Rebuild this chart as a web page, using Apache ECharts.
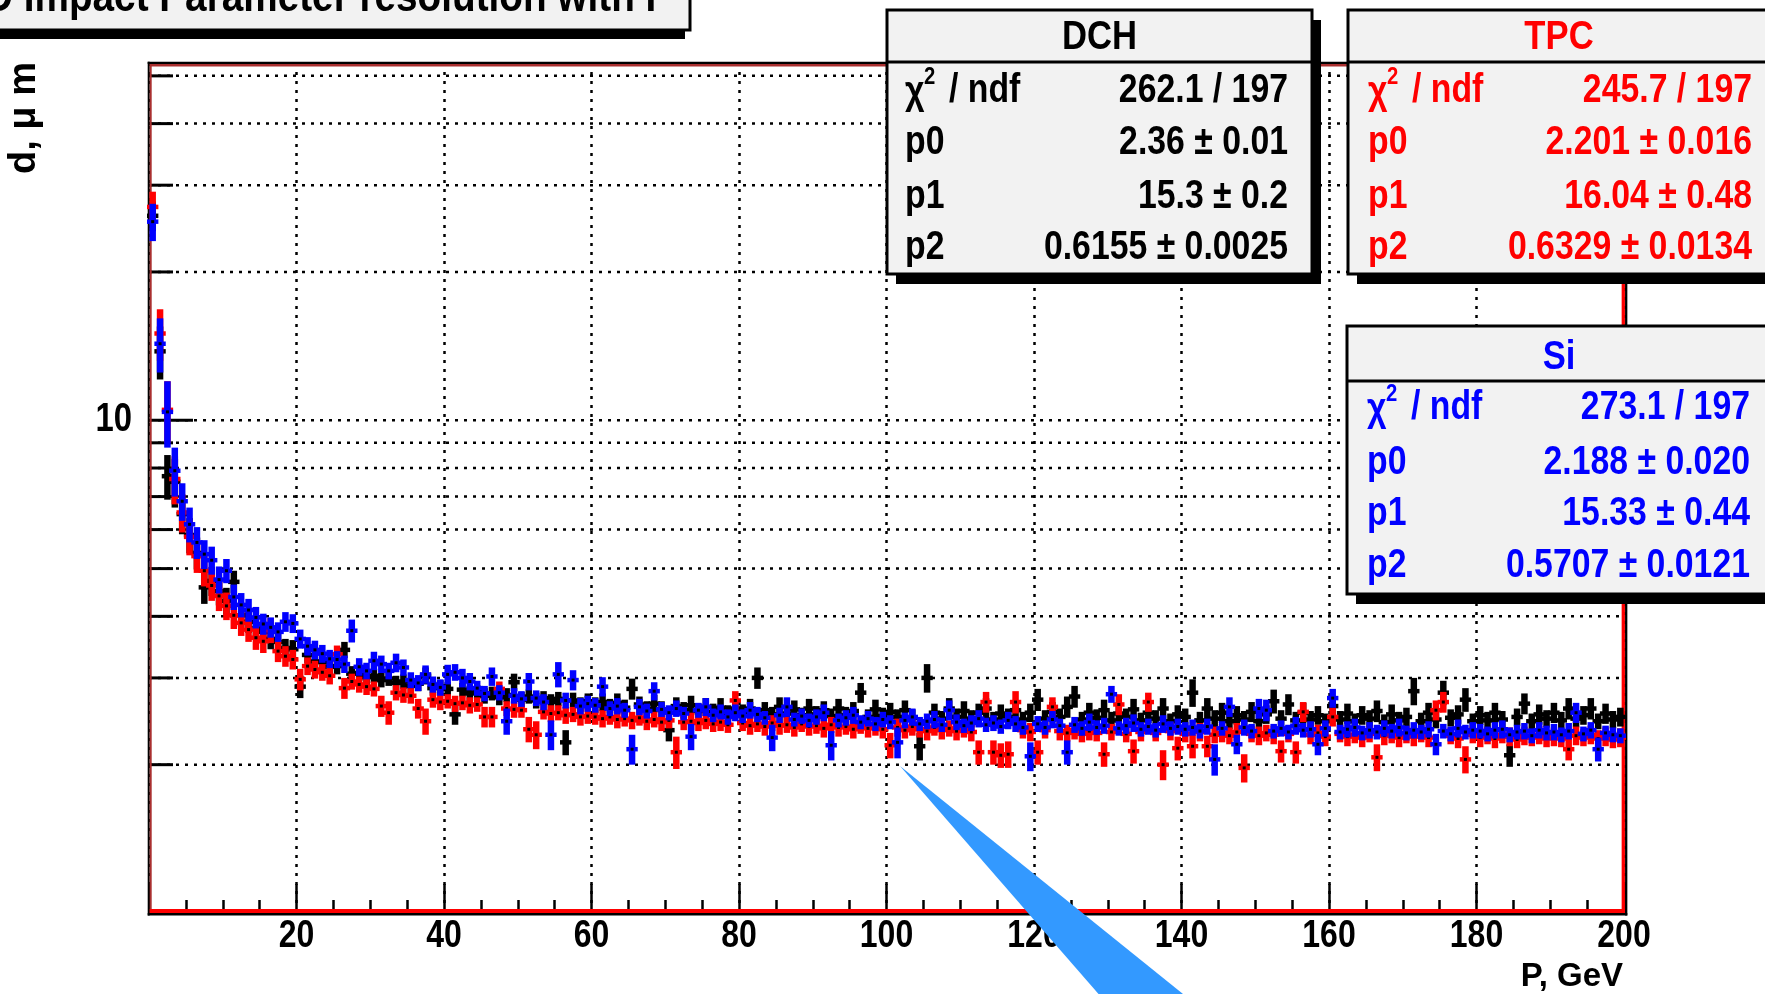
<!DOCTYPE html>
<html><head><meta charset="utf-8">
<script src="https://cdn.jsdelivr.net/npm/echarts@6/dist/echarts.min.js"></script>
<style>html,body{margin:0;padding:0;background:#fff;}#chart{width:1765px;height:994px;}</style>
</head><body><div id="chart"></div>
<script>
// ---------------- data ----------------
const xTickLabels = [20, 40, 60, 80, 100, 120, 140, 160, 180, 200];
const yGridValues = [2, 3, 4, 5, 6, 7, 8, 9, 10, 20, 30, 40, 50];
const yTickLabels = [10];
const binWidth = 1; // GeV per bin, 200 bins from 0 to 200

const siValues = [
25.3, 14.3, 10.4, 7.9, 6.85, 6.15, 5.65, 5.35, 5.2, 4.75,
4.95, 4.38, 4.22, 4.12, 3.98, 3.86, 3.8, 3.72, 3.9, 3.87,
3.6, 3.48, 3.42, 3.36, 3.28, 3.27, 3.2, 3.74, 3.16, 3.1,
3.25, 3.2, 3.1, 3.22, 3.15, 2.97, 2.93, 3.05, 2.91, 2.87,
3.05, 3.08, 3.0, 2.95, 2.86, 2.79, 3.02, 2.8, 2.45, 2.76,
2.72, 2.95, 2.73, 2.68, 2.3, 3.05, 2.7, 2.97, 2.63, 2.66,
2.64, 2.88, 2.6, 2.63, 2.58, 2.15, 2.62, 2.57, 2.82, 2.59,
2.55, 2.6, 2.54, 2.28, 2.58, 2.62, 2.52, 2.56, 2.5, 2.55,
2.51, 2.58, 2.53, 2.49, 2.27, 2.52, 2.62, 2.47, 2.51, 2.46,
2.5, 2.55, 2.19, 2.46, 2.49, 2.52, 2.44, 2.48, 2.42, 2.47,
2.44, 2.22, 2.46, 2.5, 2.42, 2.45, 2.47, 2.41, 2.58, 2.44,
2.4, 2.43, 2.48, 2.41, 2.43, 2.39, 2.46, 2.42, 2.38, 2.08,
2.42, 2.38, 2.47, 2.4, 2.12, 2.41, 2.37, 2.44, 2.38, 2.4,
2.78, 2.37, 2.4, 2.43, 2.36, 2.39, 2.35, 2.42, 2.37, 2.39,
2.36, 2.38, 2.34, 2.39, 2.05, 2.37, 2.62, 2.2, 2.38, 2.34,
2.6, 2.58, 2.34, 2.37, 2.33, 2.4, 2.35, 2.36, 2.2, 2.37,
2.73, 2.33, 2.36, 2.38, 2.32, 2.35, 2.33, 2.37, 2.34, 2.38,
2.32, 2.35, 2.33, 2.36, 2.2, 2.34, 2.31, 2.37, 2.33, 2.35,
2.34, 2.31, 2.35, 2.36, 2.3, 2.33, 2.34, 2.29, 2.35, 2.32,
2.33, 2.3, 2.34, 2.55, 2.31, 2.35, 2.15, 2.32, 2.3, 2.29];
const siErrors = [
2.2, 1.8, 1.6, 0.9, 0.6, 0.5, 0.42, 0.36, 0.34, 0.3,
0.28, 0.26, 0.24, 0.22, 0.2, 0.19, 0.18, 0.17, 0.18, 0.17,
0.16, 0.15, 0.15, 0.14, 0.14, 0.13, 0.13, 0.2, 0.13, 0.12,
0.14, 0.13, 0.12, 0.14, 0.12, 0.11, 0.11, 0.13, 0.11, 0.11,
0.14, 0.12, 0.13, 0.12, 0.1, 0.1, 0.13, 0.1, 0.15, 0.1,
0.1, 0.12, 0.1, 0.1, 0.16, 0.18, 0.1, 0.14, 0.1, 0.1,
0.09, 0.13, 0.09, 0.1, 0.09, 0.15, 0.1, 0.09, 0.12, 0.09,
0.09, 0.1, 0.08, 0.14, 0.09, 0.11, 0.08, 0.09, 0.09, 0.1,
0.08, 0.1, 0.09, 0.08, 0.14, 0.09, 0.12, 0.08, 0.09, 0.08,
0.09, 0.1, 0.15, 0.08, 0.09, 0.1, 0.08, 0.09, 0.08, 0.09,
0.08, 0.16, 0.09, 0.1, 0.08, 0.09, 0.1, 0.08, 0.12, 0.09,
0.08, 0.09, 0.1, 0.08, 0.09, 0.08, 0.1, 0.09, 0.08, 0.14,
0.09, 0.08, 0.1, 0.08, 0.12, 0.09, 0.08, 0.1, 0.08, 0.09,
0.11, 0.08, 0.09, 0.1, 0.08, 0.09, 0.08, 0.1, 0.08, 0.09,
0.08, 0.09, 0.08, 0.09, 0.15, 0.08, 0.12, 0.1, 0.09, 0.08,
0.12, 0.13, 0.08, 0.09, 0.08, 0.1, 0.08, 0.09, 0.11, 0.09,
0.12, 0.08, 0.09, 0.1, 0.08, 0.09, 0.08, 0.09, 0.08, 0.1,
0.08, 0.09, 0.08, 0.09, 0.11, 0.08, 0.08, 0.1, 0.08, 0.09,
0.08, 0.08, 0.09, 0.1, 0.08, 0.08, 0.09, 0.08, 0.09, 0.08,
0.09, 0.08, 0.09, 0.12, 0.08, 0.09, 0.12, 0.08, 0.08, 0.08];

const dchValues = [
26.0, 13.8, 7.7, 7.5, 6.45, 5.85, 5.38, 4.58, 4.72, 4.5,
4.3, 4.7, 4.02, 3.9, 3.78, 3.72, 3.6, 3.55, 3.45, 3.43,
2.88, 3.34, 3.24, 3.23, 3.16, 3.17, 3.42, 3.06, 3.07, 3.01,
3.03, 2.97, 2.99, 2.93, 2.95, 2.89, 2.92, 3.03, 2.86, 2.87,
2.85, 2.53, 2.84, 2.79, 2.81, 2.76, 2.79, 2.74, 2.77, 2.94,
2.71, 2.75, 2.7, 2.73, 2.68, 2.72, 2.22, 2.7, 2.65, 2.69,
2.64, 2.68, 2.63, 2.67, 2.61, 2.85, 2.65, 2.6, 2.66, 2.59,
2.35, 2.63, 2.58, 2.64, 2.57, 2.62, 2.56, 2.61, 2.55, 2.6,
2.55, 2.6, 3.0, 2.58, 2.53, 2.62, 2.54, 2.59, 2.52, 2.6,
2.53, 2.58, 2.51, 2.6, 2.52, 2.57, 2.8, 2.5, 2.59, 2.51,
2.56, 2.5, 2.58, 2.49, 2.18, 3.0, 2.55, 2.48, 2.6, 2.5,
2.57, 2.48, 2.55, 2.6, 2.47, 2.54, 2.5, 2.58, 2.47, 2.55,
2.71, 2.48, 2.56, 2.5, 2.62, 2.75, 2.47, 2.55, 2.49, 2.58,
2.46, 2.54, 2.5, 2.59, 2.46, 2.55, 2.48, 2.6, 2.45, 2.53,
2.5, 2.8, 2.46, 2.6, 2.48, 2.55, 2.45, 2.52, 2.47, 2.56,
2.45, 2.53, 2.69, 2.48, 2.65, 2.46, 2.55, 2.47, 2.52, 2.45,
2.63, 2.47, 2.54, 2.45, 2.52, 2.48, 2.57, 2.44, 2.53, 2.46,
2.5, 2.82, 2.45, 2.55, 2.47, 2.8, 2.49, 2.53, 2.71, 2.45,
2.52, 2.46, 2.55, 2.47, 2.09, 2.5, 2.66, 2.45, 2.53, 2.48,
2.55, 2.46, 2.6, 2.48, 2.52, 2.6, 2.45, 2.54, 2.47, 2.5];
const dchErrors = [
1.8, 1.7, 0.8, 0.85, 0.58, 0.48, 0.4, 0.34, 0.32, 0.29,
0.27, 0.25, 0.22, 0.2, 0.19, 0.18, 0.17, 0.16, 0.15, 0.15,
0.15, 0.13, 0.13, 0.12, 0.12, 0.12, 0.13, 0.11, 0.11, 0.11,
0.1, 0.1, 0.1, 0.1, 0.1, 0.1, 0.1, 0.12, 0.1, 0.1,
0.09, 0.12, 0.09, 0.1, 0.09, 0.1, 0.09, 0.1, 0.09, 0.12,
0.1, 0.09, 0.1, 0.09, 0.1, 0.09, 0.13, 0.1, 0.09, 0.1,
0.1, 0.11, 0.09, 0.12, 0.1, 0.14, 0.1, 0.09, 0.11, 0.1,
0.12, 0.11, 0.1, 0.12, 0.09, 0.11, 0.1, 0.12, 0.09, 0.11,
0.1, 0.12, 0.15, 0.1, 0.09, 0.12, 0.1, 0.11, 0.09, 0.12,
0.1, 0.11, 0.09, 0.12, 0.1, 0.11, 0.13, 0.09, 0.12, 0.1,
0.11, 0.09, 0.12, 0.1, 0.14, 0.2, 0.11, 0.09, 0.13, 0.1,
0.12, 0.1, 0.11, 0.13, 0.09, 0.11, 0.1, 0.12, 0.09, 0.11,
0.14, 0.1, 0.12, 0.1, 0.13, 0.14, 0.09, 0.12, 0.1, 0.13,
0.1, 0.11, 0.1, 0.13, 0.09, 0.12, 0.1, 0.13, 0.09, 0.11,
0.1, 0.18, 0.1, 0.13, 0.1, 0.12, 0.09, 0.11, 0.1, 0.12,
0.1, 0.11, 0.15, 0.1, 0.13, 0.1, 0.12, 0.1, 0.11, 0.09,
0.13, 0.1, 0.12, 0.09, 0.11, 0.1, 0.13, 0.09, 0.12, 0.1,
0.11, 0.18, 0.1, 0.12, 0.1, 0.16, 0.1, 0.11, 0.15, 0.09,
0.11, 0.1, 0.12, 0.1, 0.11, 0.1, 0.13, 0.09, 0.12, 0.1,
0.12, 0.1, 0.13, 0.1, 0.11, 0.13, 0.09, 0.12, 0.1, 0.11];

const tpcValues = [
27.1, 15.0, 10.5, 7.6, 6.5, 5.8, 5.3, 4.95, 4.62, 4.4,
4.2, 4.02, 3.88, 3.76, 3.62, 3.56, 3.75, 3.4, 3.32, 3.27,
2.98, 3.17, 3.12, 3.08, 3.03, 3.35, 2.86, 2.95, 2.91, 2.88,
2.85, 2.63, 2.55, 2.8, 2.77, 2.76, 2.6, 2.45, 2.71, 2.68,
2.69, 2.66, 2.67, 2.64, 2.65, 2.5, 2.5, 2.85, 2.6, 2.59,
2.58, 2.36, 2.3, 2.56, 2.54, 2.55, 2.52, 2.53, 2.5, 2.51,
2.5, 2.48, 2.5, 2.47, 2.48, 2.46, 2.49, 2.45, 2.47, 2.44,
2.46, 2.12, 2.44, 2.45, 2.43, 2.46, 2.42, 2.44, 2.41, 2.7,
2.43, 2.4, 2.42, 2.39, 2.43, 2.4, 2.41, 2.38, 2.42, 2.39,
2.4, 2.37, 2.41, 2.38, 2.39, 2.36, 2.4, 2.37, 2.38, 2.36,
2.19, 2.38, 2.35, 2.39, 2.36, 2.34, 2.38, 2.35, 2.37, 2.34,
2.36, 2.33, 2.12, 2.68, 2.12, 2.09, 2.1, 2.68, 2.35, 2.33,
2.12, 2.35, 2.62, 2.34, 2.32, 2.35, 2.31, 2.34, 2.32, 2.1,
2.33, 2.65, 2.31, 2.13, 2.33, 2.68, 2.32, 2.0, 2.34, 2.16,
2.31, 2.18, 2.33, 2.18, 2.3, 2.32, 2.29, 2.33, 1.97, 2.31,
2.29, 2.32, 2.3, 2.13, 2.31, 2.12, 2.56, 2.3, 2.32, 2.28,
2.5, 2.31, 2.28, 2.3, 2.27, 2.31, 2.07, 2.29, 2.3, 2.27,
2.3, 2.28, 2.31, 2.27, 2.58, 2.68, 2.29, 2.26, 2.05, 2.3,
2.27, 2.29, 2.26, 2.3, 2.28, 2.25, 2.29, 2.27, 2.3, 2.26,
2.28, 2.26, 2.15, 2.29, 2.27, 2.3, 2.26, 2.28, 2.25, 2.27];
const tpcErrors = [
2.0, 1.8, 1.5, 0.85, 0.58, 0.48, 0.4, 0.35, 0.32, 0.3,
0.27, 0.25, 0.23, 0.21, 0.2, 0.19, 0.22, 0.17, 0.16, 0.15,
0.15, 0.13, 0.13, 0.12, 0.12, 0.14, 0.14, 0.11, 0.11, 0.11,
0.1, 0.13, 0.14, 0.1, 0.1, 0.1, 0.12, 0.15, 0.1, 0.1,
0.09, 0.1, 0.09, 0.1, 0.09, 0.12, 0.12, 0.1, 0.09, 0.1,
0.09, 0.14, 0.15, 0.09, 0.1, 0.09, 0.1, 0.09, 0.1, 0.09,
0.09, 0.1, 0.09, 0.1, 0.09, 0.1, 0.09, 0.1, 0.09, 0.1,
0.09, 0.16, 0.09, 0.1, 0.09, 0.1, 0.09, 0.1, 0.09, 0.12,
0.09, 0.1, 0.09, 0.1, 0.09, 0.1, 0.09, 0.1, 0.09, 0.1,
0.09, 0.1, 0.09, 0.1, 0.09, 0.1, 0.09, 0.1, 0.09, 0.1,
0.13, 0.1, 0.09, 0.1, 0.09, 0.1, 0.09, 0.1, 0.09, 0.1,
0.09, 0.1, 0.12, 0.13, 0.12, 0.12, 0.13, 0.14, 0.09, 0.1,
0.12, 0.09, 0.12, 0.1, 0.09, 0.1, 0.09, 0.1, 0.09, 0.12,
0.09, 0.13, 0.09, 0.12, 0.1, 0.12, 0.09, 0.14, 0.1, 0.12,
0.09, 0.12, 0.1, 0.11, 0.09, 0.1, 0.09, 0.1, 0.13, 0.09,
0.1, 0.09, 0.1, 0.11, 0.09, 0.11, 0.12, 0.1, 0.09, 0.1,
0.11, 0.09, 0.1, 0.09, 0.1, 0.09, 0.13, 0.1, 0.09, 0.1,
0.09, 0.1, 0.09, 0.1, 0.12, 0.13, 0.09, 0.1, 0.13, 0.09,
0.1, 0.09, 0.1, 0.09, 0.1, 0.09, 0.1, 0.09, 0.1, 0.09,
0.1, 0.09, 0.11, 0.1, 0.09, 0.1, 0.09, 0.1, 0.09, 0.1];

const statLabels = ['p0', 'p1', 'p2'];
const dchStats = ['262.1 / 197', '2.36 ± 0.01', '15.3 ± 0.2', '0.6155 ± 0.0025'];
const tpcStats = ['245.7 / 197', '2.201 ± 0.016', '16.04 ± 0.48', '0.6329 ± 0.0134'];
const siStats  = ['273.1 / 197', '2.188 ± 0.020', '15.33 ± 0.44', '0.5707 ± 0.0121'];
const titleText = 'D Impact Parameter resolution with P';
const xAxisTitle = 'P, GeV';
const yAxisTitle = 'd, μ m';

// ---------------- build ----------------
const FONT = "'Liberation Sans', Arial, Helvetica, sans-serif";
function toData(vals, errs) {
  return vals.map((v, i) => [(i + 0.5) * binWidth, v, errs[i]]);
}
function errRender(color) {
  return function (params, api) {
    const x = api.value(0), y = api.value(1), e = api.value(2);
    const c = api.coord([x, y]);
    const t = api.coord([x, y + e]);
    const b = api.coord([x, Math.max(y - e, 1.0001)]);
    const l = api.coord([x - 0.5 * binWidth, y]);
    const r = api.coord([x + 0.5 * binWidth, y]);
    return { type: 'group', children: [
      { type: 'line', shape: { x1: c[0], y1: t[1], x2: c[0], y2: b[1] }, style: { stroke: color, lineWidth: 6.5 } },
      { type: 'line', shape: { x1: l[0] - 2, y1: c[1], x2: r[0] + 2, y2: c[1] }, style: { stroke: color, lineWidth: 4.5 } },
      { type: 'rect', shape: { x: c[0] - 1.5, y: c[1] - 1.5, width: 3, height: 3 }, style: { fill: '#000' } }
    ]};
  };
}
function txt(text, x, y, size, color, align, sx, z) {
  return { type: 'text', x: x, y: y, scaleX: sx, z: z || 52,
    style: { text: text, fill: color, font: 'bold ' + size + 'px ' + FONT,
      textAlign: align, align: align, textVerticalAlign: 'middle', verticalAlign: 'middle' } };
}
const SX = 0.845;
function statBox(x0, y0, x1, y1, sepY, color, head, headX, headY, labelX, valueX, rowYs, stats) {
  const els = [];
  els.push({ type: 'rect', z: 50, shape: { x: x0 + 9, y: y0 + 10, width: x1 - x0, height: y1 - y0 }, style: { fill: '#000' } });
  els.push({ type: 'rect', z: 51, shape: { x: x0, y: y0, width: x1 - x0, height: y1 - y0 }, style: { fill: '#f2f2f2', stroke: '#000', lineWidth: 3 } });
  els.push({ type: 'line', z: 51, shape: { x1: x0, y1: sepY, x2: x1, y2: sepY }, style: { stroke: '#000', lineWidth: 3 } });
  els.push(txt(head, headX, headY, 41, color, 'center', SX));
  els.push(txt('χ', labelX, rowYs[0] + 2, 40, color, 'left', SX));
  els.push(txt('2', labelX + 19, rowYs[0] - 14, 24, color, 'left', SX));
  els.push(txt('/ ndf', labelX + 44, rowYs[0], 40, color, 'left', SX));
  els.push(txt(stats[0], valueX, rowYs[0], 40, color, 'right', SX));
  for (let k = 0; k < 3; k++) {
    els.push(txt(statLabels[k], labelX, rowYs[k + 1], 40, color, 'left', SX));
    els.push(txt(stats[k + 1], valueX, rowYs[k + 1], 40, color, 'right', SX));
  }
  return els;
}

const graphics = [];
[
  { x1: 148.7, y1: 61.7, x2: 148.7, y2: 915.5, c: '#000', w: 2 },
  { x1: 147.7, y1: 62.8, x2: 1627.3, y2: 62.8, c: '#000', w: 2.3 },
  { x1: 1626.2, y1: 61.7, x2: 1626.2, y2: 915.5, c: '#000', w: 2.3 },
  { x1: 147.7, y1: 914.3, x2: 1627.3, y2: 914.3, c: '#000', w: 2.5 },
  { x1: 150.7, y1: 64, x2: 150.7, y2: 913, c: '#aa3030', w: 2 },
  { x1: 149.7, y1: 65.3, x2: 1625, y2: 65.3, c: '#aa3030', w: 2.6 },
  { x1: 1623.3, y1: 64, x2: 1623.3, y2: 913, c: '#ff0000', w: 3.3 },
  { x1: 149.7, y1: 911, x2: 1625, y2: 911, c: '#ff0000', w: 4 }
].forEach(s => graphics.push({ type: 'line', z: 5, shape: { x1: s.x1, y1: s.y1, x2: s.x2, y2: s.y2 }, style: { stroke: s.c, lineWidth: s.w } }));

graphics.push({ type: 'rect', z: 50, shape: { x: -10, y: 28, width: 695, height: 11 }, style: { fill: '#000' } });
graphics.push({ type: 'rect', z: 51, shape: { x: -10, y: -60, width: 700, height: 90 }, style: { fill: '#f2f2f2', stroke: '#000', lineWidth: 3 } });
graphics.push(txt(titleText, -15, -1, 44, '#000', 'left', 0.88));

graphics.push(...statBox(887, 10, 1312, 274, 62, '#000', 'DCH', 1099.5, 37.5, 905, 1288, [91, 142.5, 197, 248], dchStats));
graphics.push(...statBox(1348, 10, 1770, 274, 62, '#ff0000', 'TPC', 1559, 37.5, 1368, 1752, [91, 142.5, 197, 248], tpcStats));
graphics.push(...statBox(1347, 326, 1770, 594, 381, '#0000ff', 'Si', 1559, 357.5, 1367, 1750, [408, 462.5, 514, 566], siStats));

graphics.push({ type: 'text', x: 1623, y: 977, z: 52,
  style: { text: xAxisTitle, fill: '#000', font: 'bold 33px ' + FONT, textAlign: 'right', align: 'right', textVerticalAlign: 'middle', verticalAlign: 'middle' } });
graphics.push({ type: 'text', x: 25, y: 118, rotation: Math.PI / 2, z: 52,
  style: { text: yAxisTitle, fill: '#000', font: 'bold 38px ' + FONT, textAlign: 'center', align: 'center', textVerticalAlign: 'middle', verticalAlign: 'middle' } });

graphics.push({ type: 'polygon', z: 60, shape: { points: [[900, 766], [1102, 998], [1188, 998]] }, style: { fill: '#3399ff' } });

const chart = echarts.init(document.getElementById('chart'), null, { renderer: 'canvas' });
chart.setOption({
  animation: false,
  backgroundColor: '#ffffff',
  grid: { left: 149, right: 141, top: 63, bottom: 81 },
  xAxis: {
    type: 'value', min: 0, max: 200, interval: 20,
    axisLine: { show: false },
    axisTick: { show: true, inside: true, length: 29, lineStyle: { color: '#000', width: 2.5 } },
    minorTick: { show: true, splitNumber: 4, length: 13, lineStyle: { color: '#000', width: 2.5 } },
    axisLabel: { show: false },
    splitLine: { show: true, lineStyle: { color: '#000', width: 2.5, type: [3, 6] } }
  },
  yAxis: {
    type: 'log', logBase: 10, min: 1, max: 53.1,
    axisLine: { show: false }, axisTick: { show: false }, axisLabel: { show: false }, splitLine: { show: false }
  },
  graphic: { elements: graphics },
  series: [
    { type: 'custom', name: 'yGrid', z: 1, silent: true, encode: { x: 0, y: 1 },
      data: yGridValues.map(v => [0, v]),
      renderItem: function (params, api) {
        const v = api.value(1);
        const p0 = api.coord([0, v]);
        const p1 = api.coord([200, v]);
        const ch = [
          { type: 'line', shape: { x1: p0[0], y1: p0[1], x2: p1[0], y2: p1[1] }, style: { stroke: '#000', lineWidth: 2.5, lineDash: [3, 6] } },
          { type: 'line', shape: { x1: p0[0], y1: p0[1], x2: p0[0] + (yTickLabels.indexOf(v) >= 0 ? 44 : 24), y2: p0[1] }, style: { stroke: '#000', lineWidth: 3 } }
        ];
        if (yTickLabels.indexOf(v) >= 0) {
          ch.push({ type: 'text', x: p0[0] - 17, y: p0[1], scaleX: 0.82,
            style: { text: String(v), fill: '#000', font: 'bold 40px ' + FONT, textAlign: 'right', align: 'right', textVerticalAlign: 'middle', verticalAlign: 'middle' } });
        }
        return { type: 'group', children: ch };
      }
    },
    { type: 'custom', name: 'xLabels', z: 1, silent: true, encode: { x: 0, y: 1 },
      data: xTickLabels.map(v => [v, 1]),
      renderItem: function (params, api) {
        const v = api.value(0);
        const p = api.coord([v, 1]);
        return { type: 'text', x: p[0], y: p[1] + 23, scaleX: 0.82,
          style: { text: String(v), fill: '#000', font: 'bold 39px ' + FONT, textAlign: 'center', align: 'center', textVerticalAlign: 'middle', verticalAlign: 'middle' } };
      }
    },
    { type: 'custom', name: 'DCH', z: 10, silent: true, encode: { x: 0, y: 1 }, data: toData(dchValues, dchErrors), renderItem: errRender('#000000') },
    { type: 'custom', name: 'TPC', z: 11, silent: true, encode: { x: 0, y: 1 }, data: toData(tpcValues, tpcErrors), renderItem: errRender('#ff0000') },
    { type: 'custom', name: 'Si',  z: 12, silent: true, encode: { x: 0, y: 1 }, data: toData(siValues, siErrors), renderItem: errRender('#0000ff') }
  ]
});
</script>
</body></html>
